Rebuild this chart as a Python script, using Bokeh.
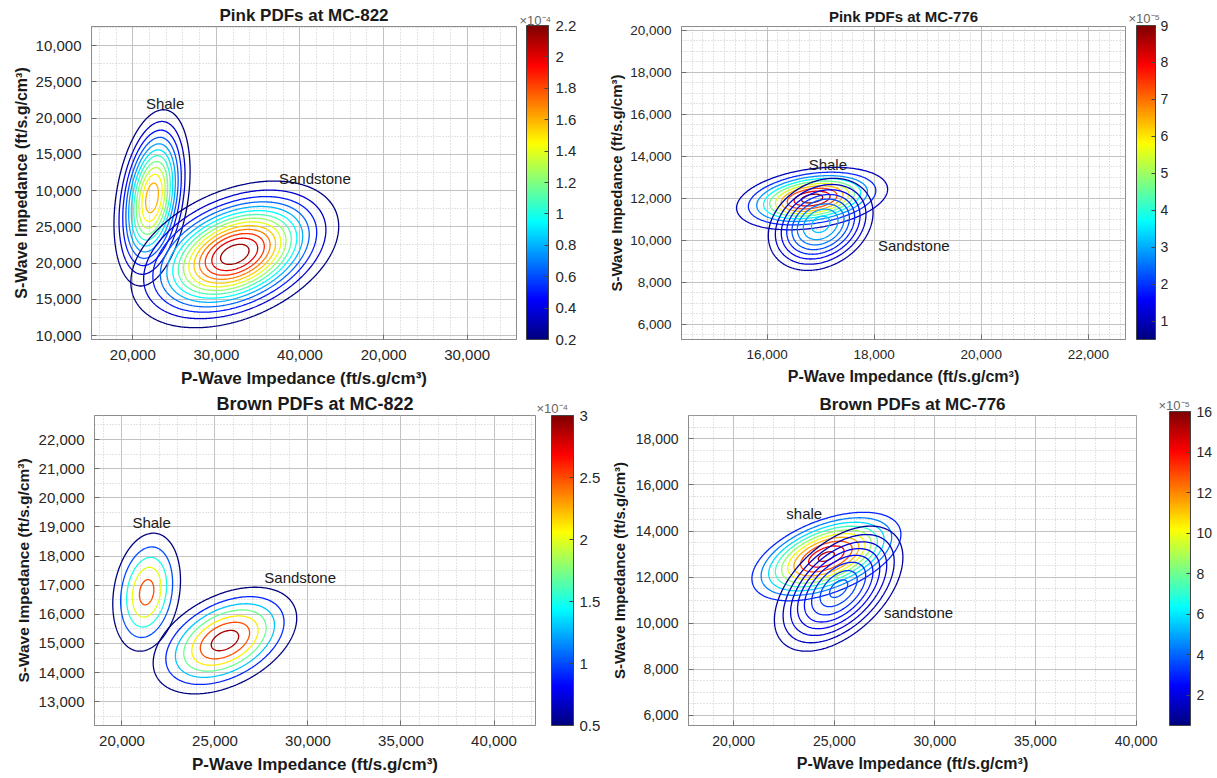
import numpy as np
from bokeh.plotting import figure
from bokeh.layouts import column, row
from bokeh.models import ColorBar, LinearColorMapper, FixedTicker
from bokeh.core.properties import value
from bokeh.embed import file_html
from bokeh.resources import INLINE

FONT = "Liberation Sans"

# ---------------- data ----------------
titles = ["Pink PDFs at MC-822", "Pink PDFs at MC-776",
          "Brown PDFs at MC-822", "Brown PDFs at MC-776"]
x_title = "P-Wave Impedance (ft/s.g/cm³)"
y_title = "S-Wave Impedance (ft/s.g/cm³)"

# axis ticks and their printed labels
p1_xticks = [20000, 30000, 40000, 50000, 60000]
p1_xlabels = ["20,000", "30,000", "40,000", "20,000", "30,000"]
p1_yticks = [10000, 15000, 20000, 25000, 30000, 35000, 40000, 45000, 50000]
p1_ylabels = ["10,000", "15,000", "20,000", "25,000", "10,000",
              "15,000", "20,000", "25,000", "10,000"]
p2_xticks = [16000, 18000, 20000, 22000]
p2_yticks = [6000, 8000, 10000, 12000, 14000, 16000, 18000, 20000]
p3_xticks = [20000, 25000, 30000, 35000, 40000]
p3_yticks = [13000, 14000, 15000, 16000, 17000, 18000, 19000, 20000, 21000, 22000]
p4_xticks = [20000, 25000, 30000, 35000, 40000]
p4_yticks = [6000, 8000, 10000, 12000, 14000, 16000, 18000]

# colour bars (density units)
cbar_exponent = ["×10⁻⁴", "×10⁻⁵", "×10⁻⁴", "×10⁻⁵"]
cbar_low = [0.2, 0.5, 0.5, 0.5]
cbar_high = [2.2, 9.0, 3.0, 16.0]
p1_cticks = [0.2, 0.4, 0.6, 0.8, 1.0, 1.2, 1.4, 1.6, 1.8, 2.0, 2.2]
p2_cticks = [1, 2, 3, 4, 5, 6, 7, 8, 9]
p3_cticks = [0.5, 1.0, 1.5, 2.0, 2.5, 3.0]
p4_cticks = [2, 4, 6, 8, 10, 12, 14, 16]

# lithology PDFs: [shale, sandstone] centre, spread, correlation, peak, contour levels
p1_names = ["Shale", "Sandstone"]
p1_cx = [22300, 32200]
p1_cy = [29000, 21200]
p1_sx = [2200, 5650]
p1_sy = [5880, 4600]
p1_rho = [0.3, 0.38]
p1_peak = [1.7, 2.25]
p1_lev_shale = [0.2, 0.34, 0.48, 0.62, 0.76, 0.9, 1.04, 1.18, 1.32, 1.46, 1.6]
p1_lev_sand = [0.2, 0.35, 0.5, 0.65, 0.8, 0.95, 1.1, 1.25, 1.4, 1.55, 1.7, 1.85, 2.0, 2.15]
p1_lbl_x = [21570, 37490]
p1_lbl_y = [42030, 31740]

p2_names = ["Shale", "Sandstone"]
p2_cx = [16840, 17000]
p2_cy = [11990, 10760]
p2_sx = [668, 575]
p2_sy = [705, 1290]
p2_rho = [0.3, 0.25]
p2_peak = [9.3, 3.4]
p2_lev_shale = [1.0, 1.9, 2.8, 3.7, 4.6, 5.5, 6.4, 7.3, 8.2, 8.9]
p2_lev_sand = [0.8, 1.15, 1.5, 1.85, 2.2, 2.55, 2.9, 3.25]
p2_lbl_x = [16776, 18069]
p2_lbl_y = [13634, 9772]

p3_names = ["Shale", "Sandstone"]
p3_cx = [21325, 25535]
p3_cy = [16760, 15100]
p3_sx = [991, 2020]
p3_sy = [1103, 958]
p3_rho = [0.2, 0.42]
p3_peak = [2.7, 3.1]
p3_lev_shale = [0.5, 1.0, 1.5, 2.0, 2.5]
p3_lev_sand = [0.5, 0.9, 1.3, 1.7, 2.1, 2.5, 2.9]
p3_lbl_x = [20559, 27651]
p3_lbl_y = [19152, 17254]

p4_names = ["shale", "sandstone"]
p4_cx = [24607, 25216]
p4_cy = [12894, 11500]
p4_sx = [2039, 1954]
p4_sy = [1058, 1662]
p4_rho = [0.5, 0.5]
p4_peak = [15.6, 3.8]
p4_lev_shale = [3.0, 4.4, 5.8, 7.2, 8.6, 10.0, 11.4, 12.8, 14.2, 15.3]
p4_lev_sand = [1.0, 1.4, 1.8, 2.2, 2.6, 3.0, 3.4, 3.7]
p4_lbl_x = [22614, 27465]
p4_lbl_y = [14760, 10475]

# ---------------- layout / style ----------------
# (width, height, left, right, top, bottom) in px
boxes = [(600, 390, 91, 84, 25, 51), (617, 390, 81, 92, 26, 50),
         (600, 388, 94, 65, 25, 53), (617, 388, 88, 81, 23, 51)]
xranges = [(15060, 65900), (14400, 22695), (18522, 42231), (17753, 40020)]
yranges = [(9450, 52655), (5273, 20190), (12185, 22824), (5560, 19016)]
xminor_step = [2000, 200, 1000, 1000]
yminor_step = [2500, 500, 500, 500]
title_size = ["17px", "15px", "18px", "17px"]
xlabel_size = ["17px", "16px", "17px", "16px"]
ylabel_size = ["16px", "15px", "15.5px", "15px"]
tick_size = ["15px", "13.5px", "15px", "14px"]
cbar_tick_size = ["15px", "14px", "15px", "14px"]
ylabel_standoff = [3, 2, 4, 5]
cbar_gap = [10, 11, 16, 33]
cbar_width = [22, 19, 22, 21]
cbar_label_standoff = [7, 5, 6, 6]
exp_offset = [(3, 3), (3, 5), (1, 5), (22, 4)]


def jet(t):
    t = min(max(t, 0.0), 1.0)
    r = min(max(1.5 - abs(4 * t - 3), 0), 1)
    g = min(max(1.5 - abs(4 * t - 2), 0), 1)
    b = min(max(1.5 - abs(4 * t - 1), 0), 1)
    return "#%02x%02x%02x" % (int(r * 255), int(g * 255), int(b * 255))


JET = [jet(i / 255) for i in range(256)]


def panel(i, xticks, xlabels, yticks, ylabels, cticks, names, cx, cy, sx, sy, rho,
          peak, levels, lbl_x, lbl_y):
    W, H, L, R, T, B = boxes[i]
    x0, x1 = xranges[i]
    y0, y1 = yranges[i]
    fw, fh = W - L - R, H - T - B
    p = figure(width=W, height=H, x_range=(x0, x1), y_range=(y0, y1),
               output_backend="svg", toolbar_location=None,
               min_border_left=L, min_border_right=R, min_border_top=T,
               min_border_bottom=B)
    p.title.text = titles[i]
    p.title.align = "center"
    p.title.text_font = FONT
    p.title.text_font_size = title_size[i]
    p.title.text_font_style = "bold"
    p.title.text_color = "#1a1a1a"
    p.title.standoff = 3

    xminor = [v for v in np.arange(np.ceil(x0 / xminor_step[i]) * xminor_step[i], x1, xminor_step[i])
              if v not in xticks]
    yminor = [v for v in np.arange(np.ceil(y0 / yminor_step[i]) * yminor_step[i], y1, yminor_step[i])
              if v not in yticks]
    p.xaxis.ticker = FixedTicker(ticks=xticks, minor_ticks=xminor)
    p.yaxis.ticker = FixedTicker(ticks=yticks, minor_ticks=yminor)
    p.xaxis.major_label_overrides = {t: l for t, l in zip(xticks, xlabels)}
    p.yaxis.major_label_overrides = {t: l for t, l in zip(yticks, ylabels)}
    p.xaxis.axis_label = x_title
    p.yaxis.axis_label = y_title
    for ax in (p.xaxis[0], p.yaxis[0]):
        ax.major_label_text_font = FONT
        ax.major_label_text_font_size = tick_size[i]
        ax.major_label_text_color = "#262626"
        ax.axis_label_text_font = FONT
        ax.axis_label_text_font_style = "bold"
        ax.axis_label_text_color = "#1a1a1a"
        ax.axis_line_color = "#8c8c8c"
        ax.major_tick_line_color = "#6e6e6e"
        ax.major_tick_in = 5
        ax.major_tick_out = 0
        ax.minor_tick_line_color = None
        ax.major_label_standoff = 6
    p.xaxis.axis_label_text_font_size = xlabel_size[i]
    p.yaxis.axis_label_text_font_size = ylabel_size[i]
    p.xaxis.axis_label_standoff = 6
    p.yaxis.axis_label_standoff = ylabel_standoff[i]
    for g in (p.xgrid[0], p.ygrid[0]):
        g.grid_line_color = "#c2c2c2"
        g.grid_line_width = 1
        g.minor_grid_line_color = "#c8c8c8"
        g.minor_grid_line_dash = "1 2"
        g.minor_grid_line_width = 1
    p.outline_line_color = "#8c8c8c"
    p.outline_line_width = 1
    p.background_fill_color = "white"
    p.border_fill_color = "white"

    lo, hi = cbar_low[i], cbar_high[i]
    gx = np.linspace(x0, x1, 360)
    gy = np.linspace(y0, y1, 360)
    X, Y = np.meshgrid(gx, gy)
    for k in range(2):
        dx = (X - cx[k]) / sx[k]
        dy = (Y - cy[k]) / sy[k]
        r = rho[k]
        Z = peak[k] * np.exp(-(dx * dx - 2 * r * dx * dy + dy * dy) / (2 * (1 - r * r)))
        cols = [jet((lv - lo) / (hi - lo)) for lv in levels[k]]
        p.contour(gx, gy, Z, levels[k], line_color=cols, line_width=1.3)

    p.text(x=lbl_x, y=lbl_y, text=names, text_font=value(FONT), text_font_size="15px",
           text_color="#1a1a1a", text_align="left", text_baseline="middle")

    mapper = LinearColorMapper(palette=JET, low=lo, high=hi)
    cb = ColorBar(color_mapper=mapper, ticker=FixedTicker(ticks=cticks),
                  major_label_overrides={t: f"{t:g}" for t in cticks},
                  location=(fw + cbar_gap[i], 0), width=cbar_width[i], height=fh,
                  padding=0, margin=0, label_standoff=cbar_label_standoff[i],
                  major_label_text_font=FONT, major_label_text_font_size=cbar_tick_size[i],
                  major_label_text_color="#262626",
                  bar_line_color="#444444", major_tick_line_color="#444444",
                  major_tick_in=4, major_tick_out=0, minor_tick_line_color=None,
                  background_fill_alpha=0, border_line_color=None)
    p.add_layout(cb)

    # multiplier text above the colour bar (title of an empty horizontal bar,
    # since annotations outside the frame are otherwise clipped)
    ox, oy = exp_offset[i]
    em = LinearColorMapper(palette=["#ffffff"], low=0, high=1)
    ecb = ColorBar(color_mapper=em, orientation="horizontal", width=1, height=1,
                   location=(fw + ox, fh + oy - 6), padding=0, margin=0,
                   title=cbar_exponent[i], title_text_font=FONT,
                   title_text_font_size="13px", title_text_font_style="normal",
                   title_text_color="#666666", title_standoff=0,
                   ticker=FixedTicker(ticks=[]), bar_line_color=None,
                   major_tick_line_color=None, minor_tick_line_color=None,
                   background_fill_alpha=0, border_line_color=None)
    p.add_layout(ecb)
    return p


fmt = lambda ts: [f"{t:,}" for t in ts]
f1 = panel(0, p1_xticks, p1_xlabels, p1_yticks, p1_ylabels, p1_cticks, p1_names,
           p1_cx, p1_cy, p1_sx, p1_sy, p1_rho, p1_peak, [p1_lev_shale, p1_lev_sand],
           p1_lbl_x, p1_lbl_y)
f2 = panel(1, p2_xticks, fmt(p2_xticks), p2_yticks, fmt(p2_yticks), p2_cticks, p2_names,
           p2_cx, p2_cy, p2_sx, p2_sy, p2_rho, p2_peak, [p2_lev_shale, p2_lev_sand],
           p2_lbl_x, p2_lbl_y)
f3 = panel(2, p3_xticks, fmt(p3_xticks), p3_yticks, fmt(p3_yticks), p3_cticks, p3_names,
           p3_cx, p3_cy, p3_sx, p3_sy, p3_rho, p3_peak, [p3_lev_shale, p3_lev_sand],
           p3_lbl_x, p3_lbl_y)
f4 = panel(3, p4_xticks, fmt(p4_xticks), p4_yticks, fmt(p4_yticks), p4_cticks, p4_names,
           p4_cx, p4_cy, p4_sx, p4_sy, p4_rho, p4_peak, [p4_lev_shale, p4_lev_sand],
           p4_lbl_x, p4_lbl_y)

layout = column(row(f1, f2, spacing=0), row(f3, f4, spacing=0), spacing=0)
html = file_html(layout, INLINE, title="PDFs")
html = html.replace("<head>", "<head><style>html,body{margin:0;padding:0;}</style>", 1)
open("out.html", "w").write(html)
